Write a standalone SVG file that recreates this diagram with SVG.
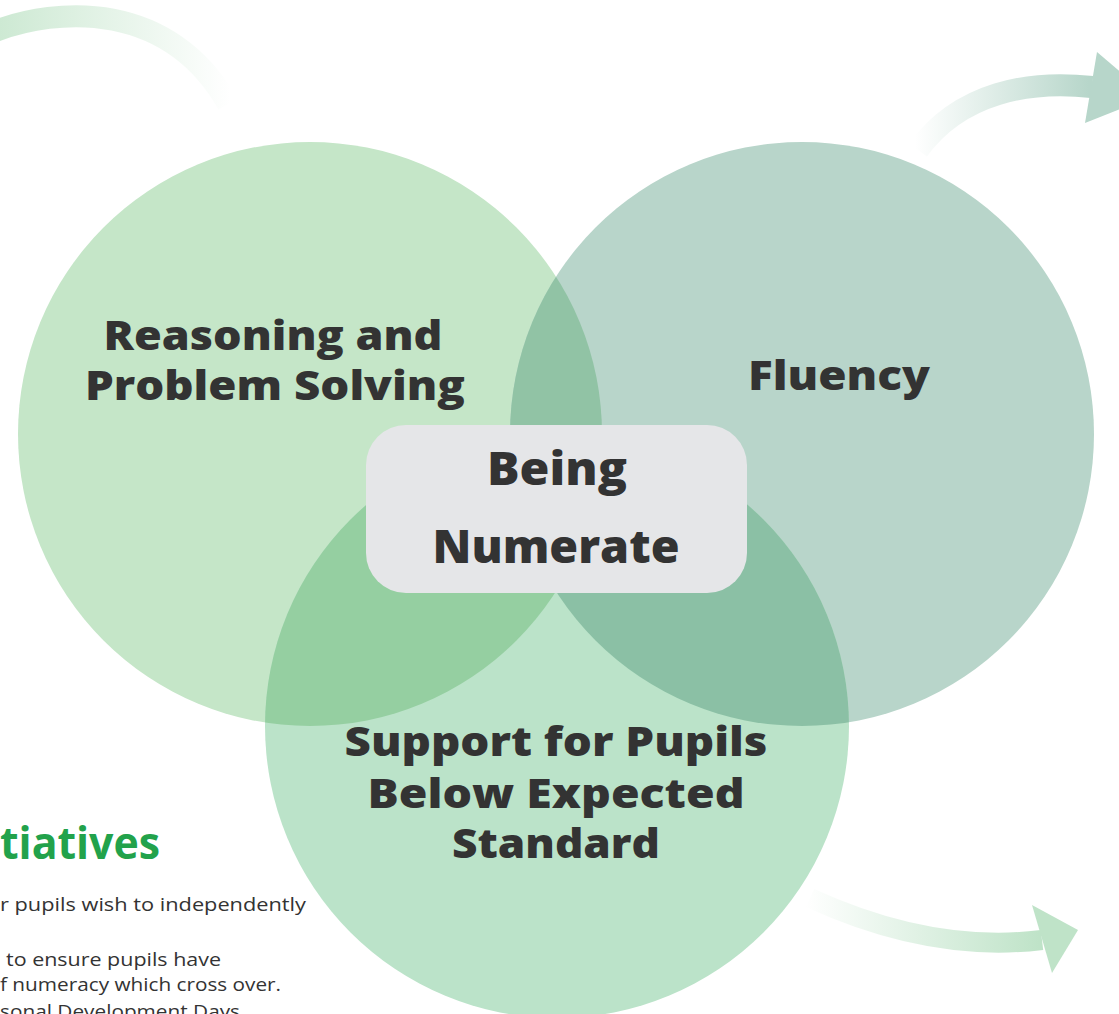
<svg xmlns="http://www.w3.org/2000/svg" width="1119" height="1014" viewBox="0 0 1119 1014">
<style>
.lbl{font-family:"Open Sans","DejaVu Sans",sans-serif;font-weight:800;fill:#333333;text-anchor:middle}
.body{font-family:"Open Sans",Lato,sans-serif;font-size:18.5px;fill:#333333}
.title{font-family:"Open Sans","DejaVu Sans",sans-serif;font-weight:700;font-size:44px;fill:#22a24b}
</style>
<defs>
<clipPath id="cL"><circle cx="310" cy="434" r="292"/></clipPath>
<clipPath id="cR"><circle cx="802" cy="434" r="292"/></clipPath>
<linearGradient id="gTL" gradientUnits="userSpaceOnUse" x1="0" y1="0" x2="230" y2="0">
<stop offset="0" stop-color="#cde9d3"/><stop offset="1" stop-color="#cde9d3" stop-opacity="0"/>
</linearGradient>
<linearGradient id="gTR" gradientUnits="userSpaceOnUse" x1="915" y1="0" x2="1119" y2="0">
<stop offset="0" stop-color="#b7d6ca" stop-opacity="0"/><stop offset="0.85" stop-color="#b7d6ca"/>
</linearGradient>
<linearGradient id="gBR" gradientUnits="userSpaceOnUse" x1="805" y1="0" x2="1080" y2="0">
<stop offset="0" stop-color="#bfe3c8" stop-opacity="0"/><stop offset="0.85" stop-color="#bfe3c8"/>
</linearGradient>
</defs>
<rect width="1119" height="1014" fill="#ffffff"/>
<g id="connectors">
<path d="M -10,33 C 60,5 170,2 228,104" fill="none" stroke="url(#gTL)" stroke-width="22"/>
<path d="M 918,150 C 960,92 1030,80 1092,87" fill="none" stroke="url(#gTR)" stroke-width="22"/>
<polygon points="1097,52 1085,123 1150,97" fill="#b7d6ca"/>
<path d="M 810,898 C 880,930 960,950 1042,940" fill="none" stroke="url(#gBR)" stroke-width="20"/>
<polygon points="1032,905 1078,930 1052,973" fill="#bfe3c8"/>
</g>
<g id="info">
<text class="title" x="0" y="859" textLength="160" lengthAdjust="spacingAndGlyphs">tiatives</text>
<text class="body" x="0" y="911" textLength="306" lengthAdjust="spacingAndGlyphs">r pupils wish to independently</text>
<text class="body" x="6" y="966" textLength="215" lengthAdjust="spacingAndGlyphs">to ensure pupils have</text>
<text class="body" x="0" y="991" textLength="281" lengthAdjust="spacingAndGlyphs">f numeracy which cross over.</text>
<text class="body" x="0" y="1018" textLength="240" lengthAdjust="spacingAndGlyphs">sonal Development Days</text>
</g>
<g id="node-reasoning">
<circle cx="310" cy="434" r="292" fill="#c5e6c8"/>
<text class="lbl" x="273" y="350" font-size="40" textLength="339" lengthAdjust="spacingAndGlyphs">Reasoning and</text>
<text class="lbl" x="275" y="400" font-size="40" textLength="380" lengthAdjust="spacingAndGlyphs">Problem Solving</text>
</g>
<g id="node-fluency">
<circle cx="802" cy="434" r="292" fill="#b8d5ca"/>
<circle cx="802" cy="434" r="292" fill="#91c3a5" clip-path="url(#cL)"/>
<text class="lbl" x="839" y="390" font-size="40" textLength="182" lengthAdjust="spacingAndGlyphs">Fluency</text>
</g>
<g id="node-support">
<circle cx="557" cy="726" r="292" fill="#bbe3c9"/>
<circle cx="557" cy="726" r="292" fill="#95cfa1" clip-path="url(#cL)"/>
<circle cx="557" cy="726" r="292" fill="#8bc0a5" clip-path="url(#cR)"/>
<text class="lbl" x="556" y="756" font-size="40" textLength="423" lengthAdjust="spacingAndGlyphs">Support for Pupils</text>
<text class="lbl" x="556" y="808" font-size="40" textLength="377" lengthAdjust="spacingAndGlyphs">Below Expected</text>
<text class="lbl" x="556" y="858" font-size="40" textLength="208" lengthAdjust="spacingAndGlyphs">Standard</text>
</g>
<g id="node-numerate">
<rect x="366" y="425" width="381" height="168" rx="40" fill="#e5e6e8"/>
<text class="lbl" x="557" y="485" font-size="46" textLength="140" lengthAdjust="spacingAndGlyphs">Being</text>
<text class="lbl" x="556" y="563" font-size="46" textLength="247" lengthAdjust="spacingAndGlyphs">Numerate</text>
</g>
</svg>
